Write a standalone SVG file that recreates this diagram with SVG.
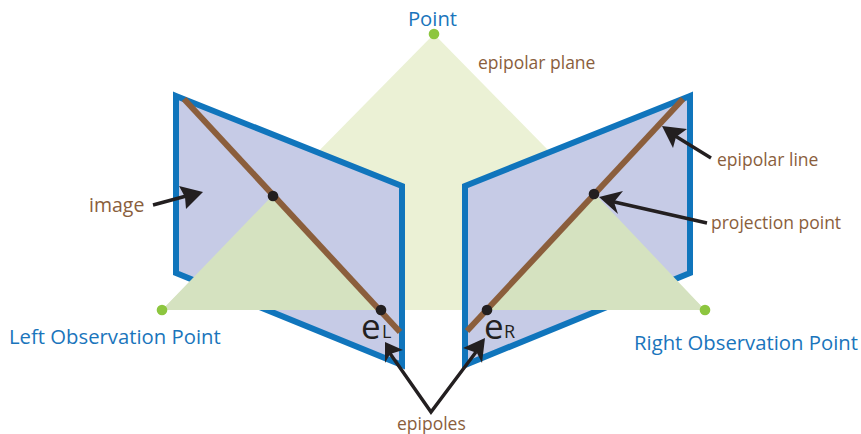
<svg xmlns="http://www.w3.org/2000/svg" width="861" height="434" viewBox="0 0 861 434">
<style>
text{font-family:"Open Sans","Noto Sans","Liberation Sans",sans-serif}
.b{fill:#1a75bc;font-size:20.3px}
.n{fill:#8a5e3c;font-size:17.5px}
.k{fill:#231f20}
.e{font-size:35px}
.s{font-size:18px}
.panel{fill:#c6cbe6;stroke:#1075bc;stroke-width:6;stroke-miterlimit:10}
.line{stroke:#8b5e3c;stroke-width:6;fill:none}
.ar{stroke:#231f20;stroke-width:3.4;fill:none}
.dot{fill:#231f20}
.obs{fill:#8dc63f}
</style>
<rect width="861" height="434" fill="#fff"/>
<g id="plane"><polygon points="434,34 162,310 705,310" fill="#ebf1d5"/></g>
<g id="left-image"><polygon class="panel" points="176,96 402,186 402,365 176,273"/></g>
<g id="right-image"><polygon class="panel" points="690,96 465,186 465,365 690,273"/></g>
<g id="left-ray"><polygon points="273,195 162,310 381,310" fill="#d5e2c0"/></g>
<g id="right-ray"><polygon points="594,193 487,310 705,310" fill="#d5e2c0"/></g>
<g id="left-epipolar-line"><line class="line" x1="184" y1="99" x2="400" y2="332"/></g>
<g id="right-epipolar-line"><line class="line" x1="683" y1="99" x2="467" y2="331"/></g>
<g id="point"><circle class="obs" cx="434" cy="34" r="5.300"/><text class="b" x="432.500" y="26" text-anchor="middle">Point</text></g>
<g id="left-observation"><circle class="obs" cx="162" cy="310" r="5.300"/><text class="b" x="9" y="344">Left Observation Point</text></g>
<g id="right-observation"><circle class="obs" cx="705" cy="310" r="5.300"/><text class="b" x="634" y="350">Right Observation Point</text></g>
<g id="projection-dots"><circle class="dot" cx="273" cy="196" r="5.300"/><circle class="dot" cx="594" cy="194" r="5.300"/><circle class="dot" cx="381" cy="310" r="5.300"/><circle class="dot" cx="487" cy="310" r="5.300"/></g>
<g id="labels">
<text class="n" x="478" y="69">epipolar plane</text>
<text class="n" x="89" y="212" style="font-size:19.500px">image</text>
<text class="n" x="717" y="166">epipolar line</text>
<text class="n" x="711" y="229">projection point</text>
<text class="n" x="397" y="430">epipoles</text>
<text class="k e" x="361" y="339">e</text><text class="k s" x="382" y="338">L</text>
<text class="k e" x="484" y="339">e</text><text class="k s" x="504" y="338">R</text>
</g>
<g id="connectors">
<line class="ar" x1="153" y1="205" x2="190" y2="195"/><polygon class="dot" points="203,192 179,186 185,197 186,209"/>
<line class="ar" x1="711" y1="158" x2="672" y2="134"/><polygon class="dot" points="662,126 687,129 676,137 673,148"/>
<line class="ar" x1="707" y1="223" x2="610" y2="201"/><polygon class="dot" points="599,197 623,191 614,202 618,214"/>
<polyline class="ar" points="389,352 431,412 476,352"/>
<polygon class="dot" points="385,342 403,350 390,354 385,363"/>
<polygon class="dot" points="485,338 463,348 477,353 482,363"/>
</g>
</svg>
